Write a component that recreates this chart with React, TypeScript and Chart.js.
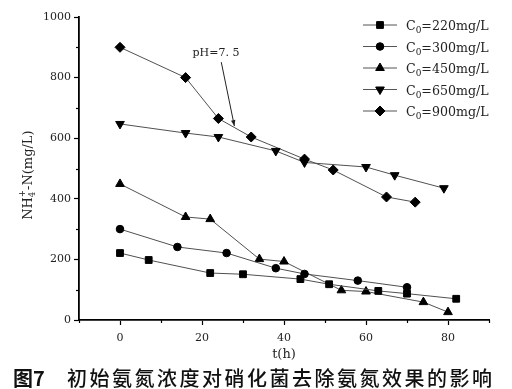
import React, { useEffect, useRef } from 'react';
import { Chart, registerables } from 'chart.js';
import { drawPoint } from 'chart.js/helpers';

Chart.register(...registerables);

// ---- data ----
const t220 = [0, 7, 22, 30, 44, 51, 63, 70, 82];
const v220 = [221, 198, 155, 151, 135, 118, 96, 87, 70];
const t300 = [0, 14, 26, 38, 45, 58, 70];
const v300 = [300, 241, 221, 171, 152, 130, 108];
const t450 = [0, 16, 22, 34, 40, 54, 60, 74, 80];
const v450 = [449, 340, 333, 201, 193, 98, 94, 59, 26];
const t650 = [0, 16, 24, 38, 45, 60, 67, 79];
const v650 = [647, 617, 604, 558, 520, 505, 478, 435];
const t900 = [0, 16, 24, 32, 45, 52, 65, 72];
const v900 = [900, 800, 665, 604, 531, 495, 406, 389];

const seriesConc = ['220', '300', '450', '650', '900'];
const xMajorTicks = [0, 20, 40, 60, 80];
const yMajorTicks = [0, 200, 400, 600, 800, 1000];
const xTitle = 't(h)';
const annotationText = 'pH=7. 5';
const annotationFrom = { x: 24.7, y: 851 };
const annotationTo = { x: 27.9, y: 640 };
const captionNum = '图7';
const captionText = '初始氨氮浓度对硝化菌去除氨氮效果的影响';

const SERIF = '"DejaVu Serif"';

const toXY = (t: number[], v: number[]) => t.map((x, i) => ({ x, y: v[i] }));

const overlayPlugin = {
  id: 'overlay',
  afterDraw(chart: any) {
    const ctx: CanvasRenderingContext2D = chart.ctx;
    const xs = chart.scales.x;
    const ys = chart.scales.y;
    ctx.save();

    // minor ticks
    ctx.strokeStyle = '#000';
    ctx.lineWidth = 1.2;
    for (let v = -10; v <= 90; v += 10) {
      if (xMajorTicks.includes(v)) continue;
      const px = Math.round(xs.getPixelForValue(v)) + 0.5;
      ctx.beginPath();
      ctx.moveTo(px, ys.bottom);
      ctx.lineTo(px, ys.bottom + 3);
      ctx.stroke();
    }
    for (let v = 100; v <= 1000; v += 200) {
      const py = Math.round(ys.getPixelForValue(v)) + 0.5;
      ctx.beginPath();
      ctx.moveTo(xs.left, py);
      ctx.lineTo(xs.left - 3, py);
      ctx.stroke();
    }

    // legend
    chart.data.datasets.forEach((ds: any, i: number) => {
      const y = 25 + i * 21.5;
      ctx.strokeStyle = '#555';
      ctx.lineWidth = 1;
      ctx.beginPath();
      ctx.moveTo(363, y);
      ctx.lineTo(397, y);
      ctx.stroke();
      ctx.fillStyle = '#000';
      ctx.strokeStyle = '#000';
      drawPoint(ctx, {
        pointStyle: ds.pointStyle,
        radius: ds.pointRadius,
        rotation: ds.pointRotation || 0,
        borderWidth: 1,
      } as any, 380, y);
      ctx.fillStyle = '#222';
      ctx.textAlign = 'left';
      ctx.textBaseline = 'alphabetic';
      let x = 406;
      ctx.font = `12.6px ${SERIF}`;
      ctx.fillText('C', x, y + 5);
      x += ctx.measureText('C').width;
      ctx.font = `9px ${SERIF}`;
      ctx.fillText('0', x, y + 8);
      x += ctx.measureText('0').width;
      ctx.font = `12.6px ${SERIF}`;
      ctx.fillText(`=${seriesConc[i]}mg/L`, x, y + 5);
    });

    // annotation
    const ax1 = xs.getPixelForValue(annotationFrom.x);
    const ay1 = ys.getPixelForValue(annotationFrom.y);
    const ax2 = xs.getPixelForValue(annotationTo.x);
    const ay2 = ys.getPixelForValue(annotationTo.y);
    ctx.strokeStyle = '#222';
    ctx.lineWidth = 1;
    ctx.beginPath();
    ctx.moveTo(ax1, ay1);
    ctx.lineTo(ax2, ay2);
    ctx.stroke();
    const ang = Math.atan2(ay2 - ay1, ax2 - ax1);
    ctx.fillStyle = '#222';
    ctx.beginPath();
    ctx.moveTo(ax2, ay2);
    ctx.lineTo(ax2 - 6 * Math.cos(ang) + 2.2 * Math.sin(ang), ay2 - 6 * Math.sin(ang) - 2.2 * Math.cos(ang));
    ctx.lineTo(ax2 - 6 * Math.cos(ang) - 2.2 * Math.sin(ang), ay2 - 6 * Math.sin(ang) + 2.2 * Math.cos(ang));
    ctx.closePath();
    ctx.fill();
    ctx.font = `11px ${SERIF}`;
    ctx.textAlign = 'center';
    ctx.textBaseline = 'middle';
    ctx.fillStyle = '#222';
    ctx.fillText(annotationText, 216, 53);

    // x title
    ctx.font = `13px ${SERIF}`;
    ctx.fillStyle = '#222';
    ctx.textAlign = 'center';
    ctx.textBaseline = 'middle';
    ctx.fillText(xTitle, 284, 355);

    // y title (rotated)
    ctx.save();
    ctx.translate(28, 176);
    ctx.rotate(-Math.PI / 2);
    const parts = [
      { t: 'NH', f: `13px ${SERIF}`, dy: 0 },
      { t: '4', f: `8.5px ${SERIF}`, dy: 3 },
      { t: '+', f: `8.5px ${SERIF}`, dy: -7, back: true },
      { t: '-N(mg/L)', f: `13px ${SERIF}`, dy: 0 },
    ];
    let total = 0;
    const widths: number[] = [];
    parts.forEach((p: any) => {
      ctx.font = p.f;
      const w = ctx.measureText(p.t).width;
      widths.push(w);
      if (!p.back) total += w;
    });
    let cx = -total / 2;
    ctx.textAlign = 'left';
    ctx.textBaseline = 'alphabetic';
    ctx.fillStyle = '#222';
    parts.forEach((p: any, i) => {
      ctx.font = p.f;
      if (p.back) {
        ctx.fillText(p.t, cx - widths[i - 1], 4 + p.dy);
        cx += Math.max(0, widths[i] - widths[i - 1]);
      } else {
        ctx.fillText(p.t, cx, 4 + p.dy);
        cx += widths[i];
      }
    });
    ctx.restore();

    // caption
    ctx.fillStyle = '#111';
    ctx.textAlign = 'left';
    ctx.textBaseline = 'middle';
    ctx.font = `bold 20px "Noto Sans CJK SC"`;
    ctx.fillText(captionNum, 13, 378);
    ctx.font = `500 20px "Noto Sans CJK SC"`;
    const chars = Array.from(captionText);
    const pitch = (492 - 67 - 20) / (chars.length - 1);
    chars.forEach((ch, i) => {
      ctx.fillText(ch, 67 + i * pitch, 378);
    });

    ctx.restore();
  },
};

export default function App() {
  const ref = useRef<HTMLCanvasElement>(null);
  useEffect(() => {
    if (!ref.current) return;
    const common = {
      borderColor: '#505050',
      borderWidth: 1,
      backgroundColor: '#000',
      pointBackgroundColor: '#000',
      pointBorderColor: '#000',
      pointBorderWidth: 1,
      tension: 0,
      fill: false,
    };
    const chart = new Chart(ref.current, {
      type: 'line',
      data: {
        datasets: [
          { ...common, label: 'C0=220mg/L', data: toXY(t220, v220), pointStyle: 'rect', pointRadius: 4.8 },
          { ...common, label: 'C0=300mg/L', data: toXY(t300, v300), pointStyle: 'circle', pointRadius: 3.8 },
          { ...common, label: 'C0=450mg/L', data: toXY(t450, v450), pointStyle: 'triangle', pointRadius: 5 },
          { ...common, label: 'C0=650mg/L', data: toXY(t650, v650), pointStyle: 'triangle', pointRotation: 180, pointRadius: 5 },
          { ...common, label: 'C0=900mg/L', data: toXY(t900, v900), pointStyle: 'rectRot', pointRadius: 5 },
        ] as any,
      },
      options: {
        responsive: false,
        animation: false,
        layout: { padding: { left: 0, right: 23, top: 17, bottom: 0 } },
        plugins: { legend: { display: false }, tooltip: { enabled: false }, title: { display: false } },
        scales: {
          x: {
            type: 'linear',
            min: -10,
            max: 90,
            afterFit: (s: any) => { s.height = 69; },
            border: { display: true, color: '#000', width: 1.8 },
            grid: {
              display: true,
              drawOnChartArea: false,
              drawTicks: true,
              tickLength: 5,
              tickWidth: 1.2,
              tickColor: (c: any) => (c.tick && xMajorTicks.includes(c.tick.value) ? '#000' : 'rgba(0,0,0,0)'),
            },
            ticks: {
              stepSize: 10,
              autoSkip: false,
              maxRotation: 0,
              padding: 7,
              color: '#222',
              font: { family: 'DejaVu Serif', size: 11 },
              callback: (v: any) => (xMajorTicks.includes(Number(v)) ? String(v) : ''),
            },
          },
          y: {
            type: 'linear',
            min: 0,
            max: 1000,
            afterFit: (s: any) => { s.width = 79; },
            border: { display: true, color: '#000', width: 1.8 },
            grid: {
              display: true,
              drawOnChartArea: false,
              drawTicks: true,
              tickLength: 5,
              tickWidth: 1.2,
              tickColor: (c: any) => (c.tick && yMajorTicks.includes(c.tick.value) ? '#000' : 'rgba(0,0,0,0)'),
            },
            ticks: {
              stepSize: 100,
              autoSkip: false,
              padding: 3,
              color: '#222',
              font: { family: 'DejaVu Serif', size: 11 },
              callback: (v: any) => (yMajorTicks.includes(Number(v)) ? String(v) : ''),
            },
          },
        },
      },
      plugins: [overlayPlugin],
    });
    return () => chart.destroy();
  }, []);
  return (
    <div style={{ position: 'absolute', left: 0, top: 0, width: 512, height: 389, background: '#fff' }}>
      <canvas ref={ref} width={512} height={389} style={{ width: 512, height: 389 }} />
    </div>
  );
}
